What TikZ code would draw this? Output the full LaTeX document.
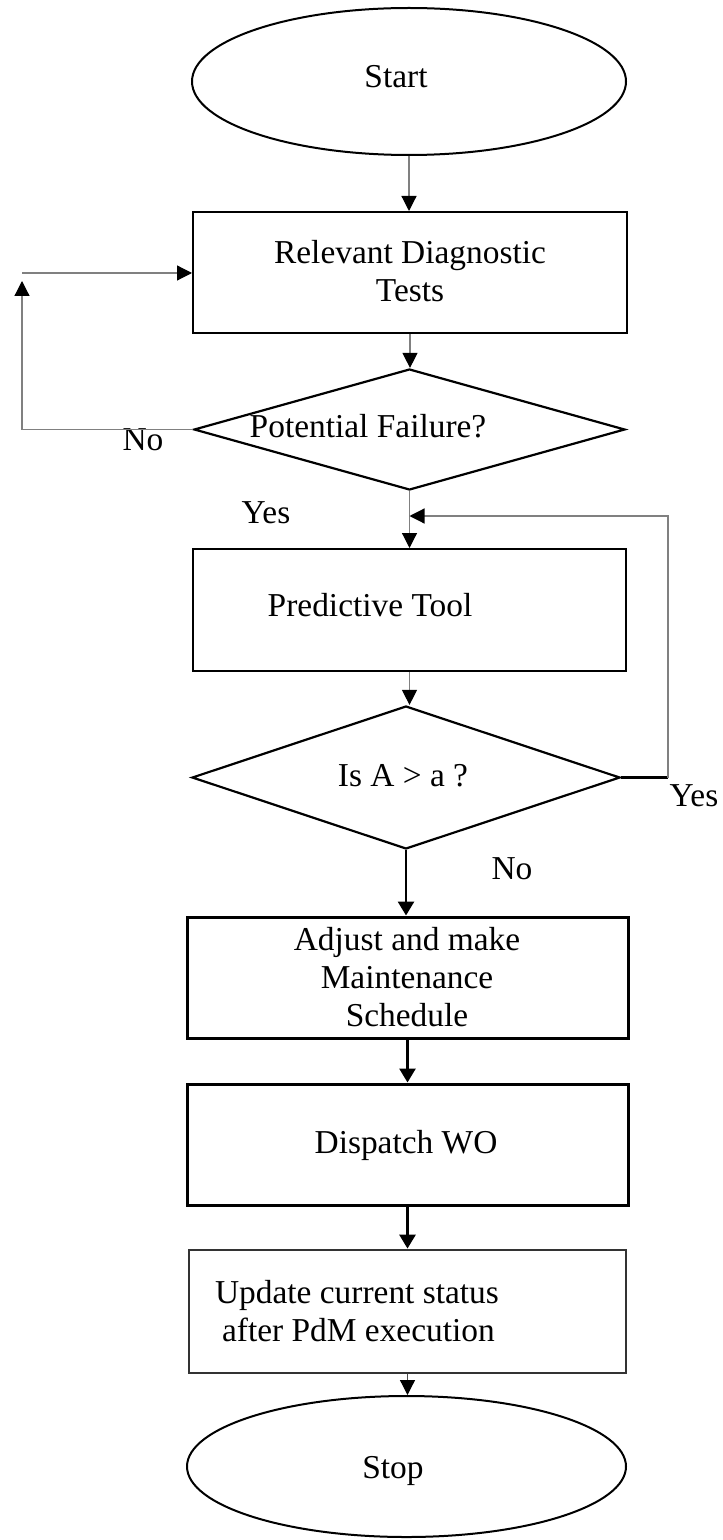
\documentclass[tikz,border=0pt]{standalone}
\usepackage{fontspec}
\setmainfont{Liberation Serif}
\usetikzlibrary{shapes.geometric, arrows.meta}

\begin{document}
\begin{tikzpicture}[x=0.5pt, y=-0.5pt,
  every node/.style={font=\fontsize{16.7}{19.2}\selectfont},
  procbox/.style={draw, rectangle, line width=1pt, inner sep=0pt},
  heavybox/.style={draw, rectangle, line width=1.5pt, inner sep=0pt},
  softbox/.style={draw=black!80, rectangle, line width=1.4pt, inner sep=0pt},
  terminal/.style={draw, ellipse, line width=1pt, inner sep=0pt},
  decision/.style={draw, diamond, line width=1.1pt, inner sep=0pt},
  txt/.style={inner sep=0pt, align=center},
  thinline/.style={draw=black!50, line width=0.6pt},
  thinflow/.style={thinline, -{Triangle[length=7.5pt,width=7.5pt,color=black]}},
  thickline/.style={draw=black, line width=1.4pt},
  thickflow/.style={thickline, -{Triangle[length=7pt,width=8pt]}},
]
\useasboundingbox (0,0) rectangle (722,1540);

% shapes
\node[terminal, minimum width=217pt, minimum height=73.5pt] (start) at (409,81.5) {};
\node[procbox, minimum width=217pt, minimum height=60.5pt] (box1) at (410,272.5) {};
\node[decision, minimum width=215.5pt, minimum height=60.5pt] (dia1) at (409.5,429.5) {};
\node[procbox, minimum width=216.5pt, minimum height=61pt] (box2) at (409.5,610) {};
\node[decision, minimum width=214pt, minimum height=71.5pt] (dia2) at (406,777.5) {};
\node[heavybox, minimum width=220.5pt, minimum height=60.5pt] (box3) at (407.5,977.5) {};
\node[heavybox, minimum width=220.5pt, minimum height=60.5pt] (box4) at (407.5,1144.5) {};
\node[softbox, minimum width=218.5pt, minimum height=61.5pt] (box5) at (407.5,1311.5) {};
\node[terminal, minimum width=219.5pt, minimum height=70.5pt] (stop) at (406.5,1466.5) {};

% texts
\node[txt, anchor=base] (startT) at (396,88) {Start};
\node[txt] (box1T) at (410,271) {Relevant Diagnostic\\Tests};
\node[txt, anchor=base] (dia1T) at (368,437) {Potential Failure?};
\node[txt, anchor=base] (box2T) at (370,616) {Predictive Tool};
\node[txt, anchor=base] (dia2T) at (403,786) {Is A > a ?};
\node[txt] (box3T) at (407,977) {Adjust and make\\Maintenance\\Schedule};
\node[txt, anchor=base] (box4T) at (406,1153) {Dispatch WO};
\node[txt, align=left] (box5T) at (357,1311) {Update current status\\\hspace*{3.5pt}after PdM execution};
\node[txt, anchor=base] (stopT) at (393,1478) {Stop};

% branch labels
\node[txt, anchor=base] (noA) at (143,450) {No};
\node[txt, anchor=base] (yesA) at (266,523) {Yes};
\node[txt, anchor=base] (yesB) at (694,806) {Yes};
\node[txt, anchor=base] (noB) at (512,879) {No};

% turning points of the loops
\coordinate (fbHigh) at (22,281);
\coordinate (fbTop) at (22,273);
\coordinate (loopR) at (668,516);

% connectors
\draw[thinflow] (start.south) -- (start.south |- box1.north);
\draw[thinflow] (box1.south) -- (box1.south |- dia1.north);
\draw[thinflow] (dia1.west) -| (fbHigh);
\draw[thinflow] (fbTop) -- (fbTop -| box1.west);
\draw[thinflow] (dia1.south) -- (dia1.south |- box2.north);
\draw[thickline] (dia2.east) -- (dia2.east -| loopR);
\draw[thinflow] (dia2.east -| loopR) -- (loopR) -- (loopR -| dia1.south);
\draw[thinflow] (box2.south) -- (box2.south |- dia2.north);
\draw[thickflow] (dia2.south) -- (dia2.south |- box3.north);
\draw[thickflow] (box3.south) -- (box3.south |- box4.north);
\draw[thickflow] (box4.south) -- (box4.south |- box5.north);
\draw[thinflow, draw=black!70] (box5.south) -- (box5.south |- stop.north);
\end{tikzpicture}
\end{document}
